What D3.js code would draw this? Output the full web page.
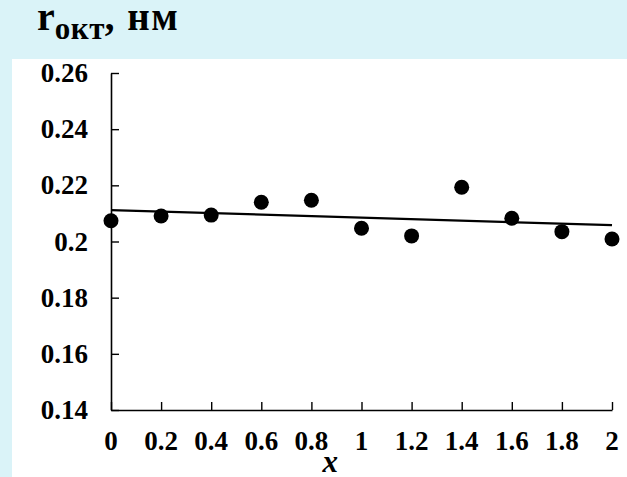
<!DOCTYPE html>
<html>
<head>
<meta charset="utf-8">
<script src="https://cdn.jsdelivr.net/npm/d3@7"></script>
<style>
  html, body { margin: 0; padding: 0; background: #daf3f8; }
  svg { display: block; }
  .tick-label { font-family: "Liberation Serif", "Times New Roman", serif; font-weight: bold; font-size: 27px; fill: #000; }
</style>
</head>
<body>
<div id="chart"></div>
<script>
const width = 627;
const height = 477;

// data
const xValues = [0, 0.2, 0.4, 0.6, 0.8, 1.0, 1.2, 1.4, 1.6, 1.8, 2.0];
const rValues = [0.2074, 0.2091, 0.2094, 0.2140, 0.2147, 0.2047, 0.2020, 0.2193, 0.2083, 0.2035, 0.2009];
const trendX = [0, 2];
const trendY = [0.2112, 0.2058];
const xTicks = [0, 0.2, 0.4, 0.6, 0.8, 1, 1.2, 1.4, 1.6, 1.8, 2];
const yTicks = [0.14, 0.16, 0.18, 0.2, 0.22, 0.24, 0.26];

const svg = d3.select('#chart')
  .append('svg')
  .attr('width', width)
  .attr('height', height);

// background: cyan frame at top and left, white plot panel
svg.append('rect')
  .attr('width', width)
  .attr('height', height)
  .attr('fill', '#daf3f8');

svg.append('rect')
  .attr('x', 12)
  .attr('y', 59)
  .attr('width', width - 12)
  .attr('height', height - 59)
  .attr('fill', '#fff');

const x = d3.scaleLinear().domain([0, 2]).range([111, 612]);
const y = d3.scaleLinear().domain([0.14, 0.26]).range([410, 73]);

// title: r with subscript "окт", then units
const title = svg.append('text')
  .attr('x', 37)
  .attr('y', 30)
  .attr('font-family', '"Liberation Serif", "Times New Roman", serif')
  .attr('font-weight', 'bold')
  .attr('fill', '#000');
title.append('tspan').attr('font-size', 40).text('r');
title.append('tspan').attr('font-size', 31).attr('dy', 9).attr('letter-spacing', 0.5).text('окт');
title.append('tspan').attr('font-size', 39).attr('dy', -9).attr('letter-spacing', 1.5).text(', нм');

// y axis, ticks pointing inward
const yAxis = svg.append('g')
  .attr('transform', `translate(${x(0)},0)`)
  .call(d3.axisRight(y).tickValues(yTicks).tickSize(8).tickSizeOuter(0).tickFormat(''));

// x axis, ticks pointing upward
const xAxis = svg.append('g')
  .attr('transform', `translate(0,${y(0.14)})`)
  .call(d3.axisTop(x).tickValues(xTicks).tickSize(8).tickSizeOuter(0).tickFormat(''));

[xAxis, yAxis].forEach(g => {
  g.select('.domain').attr('stroke', '#000').attr('stroke-width', 1.6);
  g.selectAll('.tick line').attr('stroke', '#000').attr('stroke-width', 1.4);
});

// tick labels
svg.append('g')
  .selectAll('text')
  .data(yTicks)
  .join('text')
  .attr('class', 'tick-label')
  .attr('x', 88)
  .attr('y', d => y(d) + 9)
  .attr('text-anchor', 'end')
  .text(d => d3.format('')(d));

svg.append('g')
  .selectAll('text')
  .data(xTicks)
  .join('text')
  .attr('class', 'tick-label')
  .attr('x', d => x(d))
  .attr('y', 450)
  .attr('text-anchor', 'middle')
  .text(d => d3.format('')(d));

// x axis title
svg.append('text')
  .attr('x', x(0.875))
  .attr('y', 472)
  .attr('text-anchor', 'middle')
  .attr('font-family', '"Liberation Serif", "Times New Roman", serif')
  .attr('font-weight', 'bold')
  .attr('font-style', 'italic')
  .attr('font-size', 31)
  .text('x');

// linear trend line
const line = d3.line().x(d => x(d[0])).y(d => y(d[1]));
svg.append('path')
  .datum(d3.zip(trendX, trendY))
  .attr('d', line)
  .attr('fill', 'none')
  .attr('stroke', '#000')
  .attr('stroke-width', 2.3);

// data points
svg.append('g')
  .selectAll('circle')
  .data(d3.zip(xValues, rValues))
  .join('circle')
  .attr('cx', d => x(d[0]))
  .attr('cy', d => y(d[1]))
  .attr('r', 7.5)
  .attr('fill', '#000');
</script>
</body>
</html>
